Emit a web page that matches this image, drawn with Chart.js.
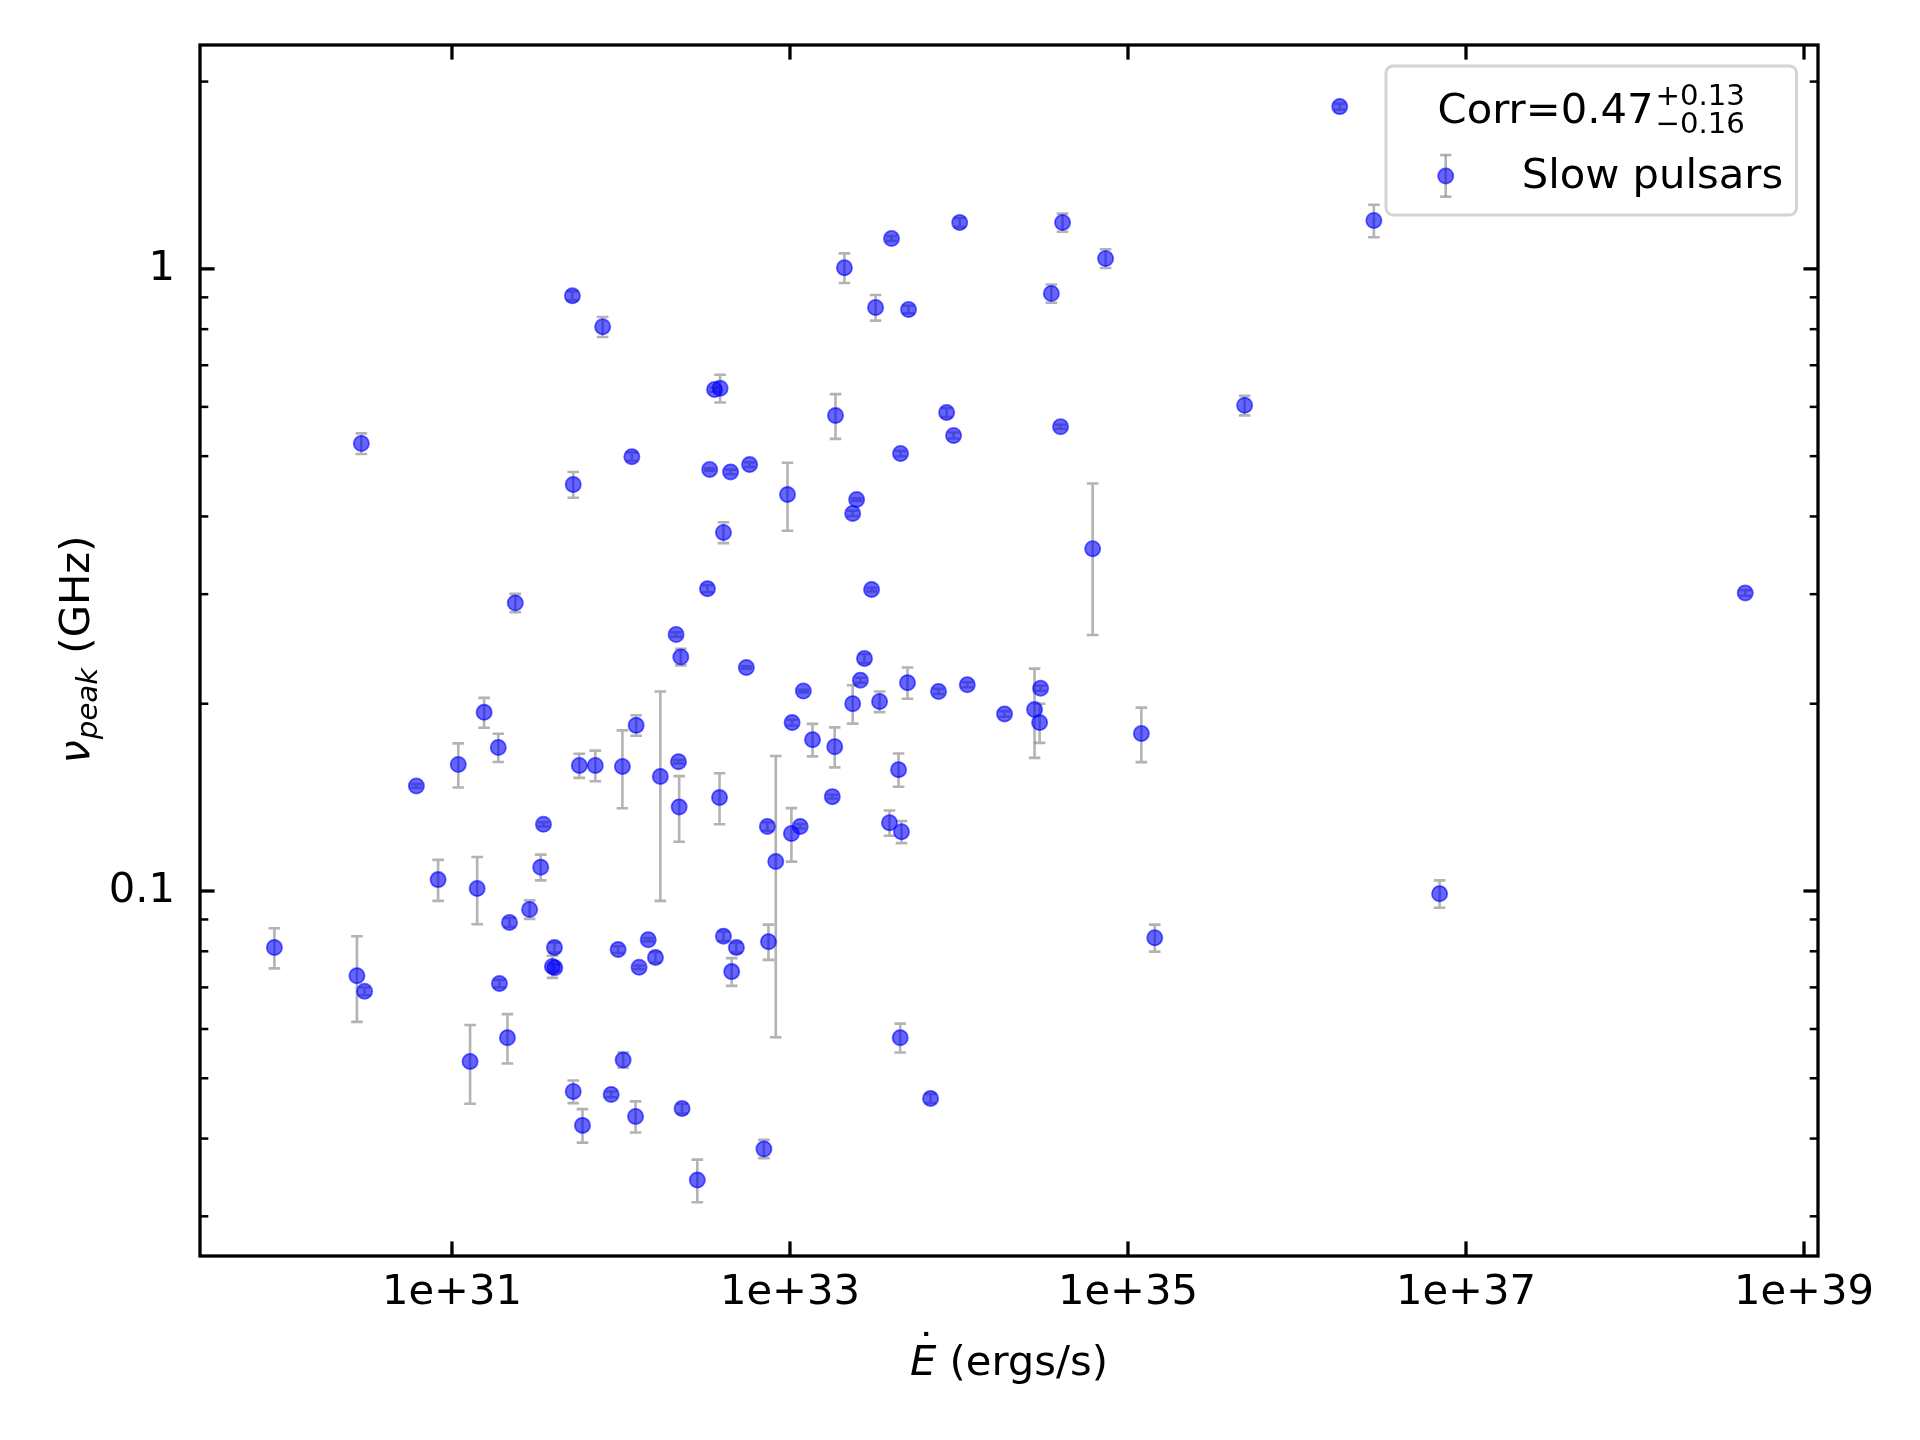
<!DOCTYPE html>
<html>
<head>
<meta charset="utf-8">
<script src="https://cdn.jsdelivr.net/npm/chart.js@4.4.0/dist/chart.umd.min.js"></script>
<style>
  html, body { margin: 0; padding: 0; background: #fff; }
  #wrap { width: 1920px; height: 1440px; }
</style>
</head>
<body>
<div id="wrap"><canvas id="pulsarChart" width="1920" height="1440"></canvas></div>
<script>
// --- DATA (spin-down power in erg/s, peak frequency in GHz, 1-sigma error in GHz) ---
const eDot = [
  8.9e29, 2.74e30, 3.04e30, 2.91e30, 6.16e30, 8.28e30, 1.09e31, 1.41e31, 1.28e31, 1.55e31,
  1.88e31, 1.91e31, 2.13e31, 2.19e31, 2.37e31, 2.88e31, 3.35e31, 3.48e31, 4.04e31, 3.93e31,
  4.06e31, 5.16e31, 5.22e31, 5.22e31, 5.67e31, 5.92e31, 7.05e31, 7.79e31, 8.75e31, 9.62e31,
  1.02e32, 1.03e32, 1.16e32, 1.22e32, 1.23e32, 1.28e32, 1.45e32, 1.60e32, 1.71e32, 2.12e32,
  2.19e32, 2.21e32, 2.26e32, 2.30e32, 2.83e32, 3.25e32, 3.35e32, 3.58e32, 3.86e32, 3.83e32,
  4.04e32, 4.04e32, 4.45e32, 4.52e32, 4.82e32, 5.52e32, 5.77e32, 7.01e32, 7.35e32, 7.46e32,
  8.24e32, 9.67e32, 1.02e33, 1.03e33, 1.15e33, 1.20e33, 1.36e33, 1.78e33, 1.84e33, 1.86e33,
  2.10e33, 2.35e33, 2.35e33, 2.48e33, 2.61e33, 2.76e33, 3.04e33, 3.21e33, 3.39e33, 3.88e33,
  3.99e33, 4.39e33, 4.49e33, 4.51e33, 4.57e33, 4.96e33, 5.03e33, 6.79e33, 7.57e33, 8.45e33,
  9.29e33, 1.01e34, 1.12e34, 1.86e34, 2.80e34, 3.00e34, 3.04e34, 3.52e34, 3.99e34, 4.10e34,
  6.18e34, 7.37e34, 1.20e35, 1.44e35, 4.90e35, 1.79e36, 2.85e36, 6.98e36, 4.49e38
];
const nuPeak = [
  0.0811, 0.0731, 0.0690, 0.524, 0.1475, 0.1043, 0.1597, 0.1009, 0.0532, 0.1937,
  0.1701, 0.0710, 0.0581, 0.0890, 0.2904, 0.0934, 0.1092, 0.1280, 0.0811, 0.0756,
  0.0753, 0.905, 0.450, 0.0476, 0.1591, 0.0420, 0.1591, 0.807, 0.0471, 0.0805,
  0.1585, 0.0535, 0.499, 0.0434, 0.1846, 0.0754, 0.0835, 0.0782, 0.1528, 0.2584,
  0.1614, 0.1365, 0.2378, 0.0447, 0.0343, 0.3062, 0.4758, 0.6397, 0.6427, 0.1413,
  0.0846, 0.3769, 0.4716, 0.0742, 0.0811, 0.2286, 0.4846, 0.0385, 0.1270, 0.0829,
  0.1115, 0.4337, 0.1237, 0.1865, 0.1270, 0.2096, 0.1751, 0.1418, 0.1706, 0.5810,
  1.004, 0.4045, 0.2000, 0.4257, 0.2182, 0.2364, 0.3051, 0.8666, 0.2016, 0.1287,
  1.119, 0.1567, 0.0581, 0.5048, 0.1245, 0.2162, 0.8602, 0.0464, 0.2093, 0.5876,
  0.5396, 1.187, 0.2146, 0.1926, 0.1957, 0.1865, 0.2118, 0.9130, 0.5575, 1.187,
  0.3549, 1.039, 0.1791, 0.0841, 0.6034, 1.823, 1.196, 0.0990, 0.3013
];
const nuErr = [
  0.0060, 0.0115, 0.0010, 0.020, 0.0010, 0.0079, 0.0130, 0.0125, 0.0077, 0.0107,
  0.0089, 0.0010, 0.0053, 0.0015, 0.0099, 0.0032, 0.0052, 0.0010, 0.0015, 0.0031,
  0.0010, 0.015, 0.0214, 0.0020, 0.0071, 0.0026, 0.0090, 0.030, 0.0005, 0.0010,
  0.0227, 0.0015, 0.008, 0.0025, 0.0070, 0.0005, 0.0005, 0.0015, 0.0564, 0.0020,
  0.0010, 0.0165, 0.0073, 0.0008, 0.0027, 0.0040, 0.0020, 0.005, 0.033, 0.0133,
  0.0015, 0.0145, 0.0040, 0.0038, 0.0015, 0.0010, 0.0040, 0.0013, 0.0020, 0.0054,
  0.0533, 0.0543, 0.0122, 0.0020, 0.0010, 0.0010, 0.0105, 0.0010, 0.0126, 0.048,
  0.055, 0.0040, 0.0142, 0.0020, 0.0020, 0.0040, 0.0020, 0.041, 0.0077, 0.0060,
  0.010, 0.0096, 0.0031, 0.005, 0.0051, 0.0125, 0.012, 0.0008, 0.0020, 0.010,
  0.006, 0.020, 0.0020, 0.0020, 0.032, 0.0135, 0.0020, 0.031, 0.004, 0.040,
  0.097, 0.036, 0.018, 0.0042, 0.022, 0.020, 0.072, 0.0050, 0.0030
];

const xTickValues = [1e31, 1e33, 1e35, 1e37, 1e39];
const yTickValues = [0.1, 1];
const yMinorTicks = [0.03, 0.04, 0.05, 0.06, 0.07, 0.08, 0.09, 0.2, 0.3, 0.4, 0.5, 0.6, 0.7, 0.8, 0.9, 2];
const xRange = [3.23e29, 1.21e39];
const yRange = [0.0259, 2.29];

const seriesLabel = 'Slow pulsars';
const corrText = 'Corr=0.47';
const corrPlus = '+0.13';
const corrMinus = '\u22120.16';

const FONT = '"DejaVu Sans", sans-serif';
const FS = 41.7;

const points = eDot.map((e, i) => ({ x: e, y: nuPeak[i] }));

// --- ERROR BARS (drawn under the markers) ---
const errorBarPlugin = {
  id: 'errorBars',
  beforeDatasetsDraw(chart) {
    const { ctx, scales: { x, y } } = chart;
    ctx.save();
    ctx.strokeStyle = 'rgba(128,128,128,0.6)';
    ctx.lineWidth = 2.6;
    eDot.forEach((e, i) => {
      const px = x.getPixelForValue(e);
      const top = y.getPixelForValue(nuPeak[i] + nuErr[i]);
      const bot = y.getPixelForValue(nuPeak[i] - nuErr[i]);
      ctx.beginPath();
      ctx.moveTo(px, top); ctx.lineTo(px, bot);
      ctx.moveTo(px - 5.8, top); ctx.lineTo(px + 5.8, top);
      ctx.moveTo(px - 5.8, bot); ctx.lineTo(px + 5.8, bot);
      ctx.stroke();
    });
    ctx.restore();
  }
};

// --- FRAME, INWARD TICKS, AXIS TITLES, LEGEND ---
const framePlugin = {
  id: 'frame',
  afterDraw(chart) {
    const { ctx, chartArea: a, scales: { x, y } } = chart;
    ctx.save();
    ctx.strokeStyle = '#000';
    const seg = (x1, y1, x2, y2) => { ctx.beginPath(); ctx.moveTo(x1, y1); ctx.lineTo(x2, y2); ctx.stroke(); };

    ctx.lineWidth = 3.3;
    xTickValues.forEach(v => {
      const px = x.getPixelForValue(v);
      seg(px, a.bottom, px, a.bottom - 14.6);
      seg(px, a.top, px, a.top + 14.6);
    });
    yTickValues.forEach(v => {
      const py = y.getPixelForValue(v);
      seg(a.left, py, a.left + 14.6, py);
      seg(a.right, py, a.right - 14.6, py);
    });
    ctx.lineWidth = 2.5;
    yMinorTicks.forEach(v => {
      const py = y.getPixelForValue(v);
      seg(a.left, py, a.left + 8.3, py);
      seg(a.right, py, a.right - 8.3, py);
    });
    ctx.lineWidth = 3.3;
    ctx.strokeRect(a.left, a.top, a.right - a.left, a.bottom - a.top);

    // x title: E-dot (ergs/s)
    ctx.fillStyle = '#000';
    ctx.textBaseline = 'alphabetic';
    ctx.textAlign = 'left';
    const italic = 'italic ' + FS + 'px ' + FONT;
    const regular = FS + 'px ' + FONT;
    ctx.font = italic;
    const wE = ctx.measureText('E').width;
    ctx.font = regular;
    const wUnit = ctx.measureText(' (ergs/s)').width;
    let x0 = (a.left + a.right) / 2 - (wE + wUnit) / 2;
    const xBase = 1375;
    ctx.font = italic;
    ctx.fillText('E', x0, xBase);
    ctx.font = regular;
    ctx.textAlign = 'center';
    ctx.fillText('\u02D9', x0 + wE * 0.62, xBase - 12);
    ctx.textAlign = 'left';
    ctx.fillText(' (ergs/s)', x0 + wE, xBase);

    // y title: nu_peak (GHz)
    ctx.save();
    ctx.translate(88.6, (a.top + a.bottom) / 2);
    ctx.rotate(-Math.PI / 2);
    const sub = 'italic ' + (FS * 0.7) + 'px ' + FONT;
    ctx.font = italic; const wNu = ctx.measureText('\u03BD').width;
    ctx.font = sub; const wPeak = ctx.measureText('peak').width;
    ctx.font = regular; const wGHz = ctx.measureText(' (GHz)').width;
    let y0 = -(wNu + wPeak + wGHz) / 2;
    ctx.font = italic; ctx.fillText('\u03BD', y0, 0);
    ctx.font = sub; ctx.fillText('peak', y0 + wNu + 1, 8.5);
    ctx.font = regular; ctx.fillText(' (GHz)', y0 + wNu + wPeak + 2, 0);
    ctx.restore();

    // legend box
    const box = { left: 1386, top: 66, right: 1796.5, bottom: 215, r: 7 };
    ctx.beginPath();
    ctx.roundRect(box.left, box.top, box.right - box.left, box.bottom - box.top, box.r);
    ctx.fillStyle = 'rgba(255,255,255,0.8)';
    ctx.fill();
    ctx.lineWidth = 3;
    ctx.strokeStyle = '#d4d4d4';
    ctx.stroke();

    // legend title with asymmetric errors
    ctx.fillStyle = '#000';
    ctx.font = regular;
    const wMain = ctx.measureText(corrText).width;
    const small = (FS * 0.7) + 'px ' + FONT;
    ctx.font = small;
    const wScript = Math.max(ctx.measureText(corrPlus).width, ctx.measureText(corrMinus).width);
    const cx = (box.left + box.right) / 2;
    const gap = 2;
    const tx = cx - (wMain + gap + wScript) / 2;
    ctx.font = regular;
    ctx.fillText(corrText, tx, 122.7);
    ctx.font = small;
    ctx.fillText(corrPlus, tx + wMain + gap, 105);
    ctx.fillText(corrMinus, tx + wMain + gap, 132.7);

    // legend entry
    const mx = 1445.7, my = 176;
    ctx.strokeStyle = 'rgba(128,128,128,0.6)';
    ctx.lineWidth = 2.6;
    seg(mx, 155, mx, 196.7);
    seg(mx - 5.8, 155, mx + 5.8, 155);
    seg(mx - 5.8, 196.7, mx + 5.8, 196.7);
    ctx.beginPath();
    ctx.arc(mx, my, 7.6, 0, Math.PI * 2);
    ctx.fillStyle = 'rgba(0,0,255,0.6)';
    ctx.fill();
    ctx.strokeStyle = 'rgba(0,0,255,0.6)';
    ctx.lineWidth = 1.8;
    ctx.stroke();
    ctx.fillStyle = '#000';
    ctx.font = regular;
    ctx.fillText(seriesLabel, 1521.7, 188.3);

    ctx.restore();
  }
};

// --- CHART.JS SETUP ---
const ctx = document.getElementById('pulsarChart');
const pulsarChart = new Chart(ctx, {
  type: 'scatter',
  data: {
    datasets: [{
      label: seriesLabel,
      data: points,
      backgroundColor: 'rgba(0,0,255,0.6)',
      borderColor: 'rgba(0,0,255,0.6)',
      borderWidth: 1.8,
      pointRadius: 7.6,
      pointHoverRadius: 7.6
    }]
  },
  options: {
    responsive: false,
    animation: false,
    devicePixelRatio: 1,
    events: [],
    layout: { padding: { left: 0, right: 102, top: 45, bottom: 0 } },
    plugins: {
      legend: { display: false },
      tooltip: { enabled: false }
    },
    scales: {
      x: {
        type: 'logarithmic',
        min: xRange[0],
        max: xRange[1],
        border: { display: false },
        grid: { display: false },
        ticks: {
          autoSkip: false,
          maxRotation: 0,
          padding: 4,
          color: '#000',
          font: { family: 'DejaVu Sans', size: FS },
          callback: v => '1e+' + Math.round(Math.log10(v))
        },
        afterBuildTicks: s => { s.ticks = xTickValues.map(v => ({ value: v })); },
        afterFit: s => { s.height = 184; }
      },
      y: {
        type: 'logarithmic',
        min: yRange[0],
        max: yRange[1],
        border: { display: false },
        grid: { display: false },
        ticks: {
          autoSkip: false,
          padding: 17,
          color: '#000',
          font: { family: 'DejaVu Sans', size: FS },
          callback: v => String(v)
        },
        afterBuildTicks: s => { s.ticks = yTickValues.map(v => ({ value: v })); },
        afterFit: s => { s.width = 200; }
      }
    }
  },
  plugins: [errorBarPlugin, framePlugin]
});
</script>
</body>
</html>
